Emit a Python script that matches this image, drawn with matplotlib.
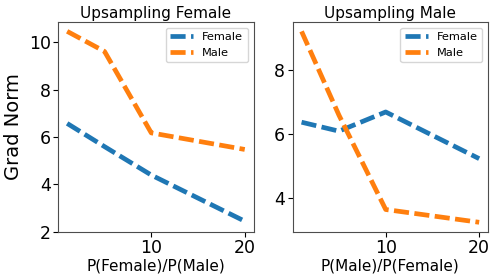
import matplotlib
matplotlib.use("Agg")
import matplotlib.pyplot as plt

ratios = [1, 5, 10, 20]
upF_female = [6.58, 5.6, 4.4, 2.45]
upF_male = [10.47, 9.62, 6.18, 5.48]
upM_female = [6.38, 6.1, 6.7, 5.24]
upM_male = [9.22, 6.6, 3.65, 3.25]
xticks = [10, 20]

fig, axes = plt.subplots(1, 2, figsize=(4.98, 2.8), dpi=100)
fig.subplots_adjust(left=0.117, right=0.98, bottom=0.172, top=0.922, wspace=0.2)

specs = [
    (axes[0], upF_female, upF_male, "Upsampling Female", "P(Female)/P(Male)", [2, 4, 6, 8, 10]),
    (axes[1], upM_female, upM_male, "Upsampling Male", "P(Male)/P(Female)", [4, 6, 8]),
]
for ax, fem, mal, title, xlabel, yt in specs:
    ax.plot(ratios, fem, linestyle=(0, (3.2, 1.15)), linewidth=3.4, color="#1f77b4", label="Female")
    ax.plot(ratios, mal, linestyle=(0, (3.2, 1.15)), linewidth=3.4, color="#ff7f0e", label="Male")
    ax.set_title(title, fontsize=11, pad=3)
    ax.set_xlabel(xlabel, fontsize=11, labelpad=1)
    ax.set_xticks(xticks)
    ax.set_yticks(yt)
    ax.tick_params(labelsize=12.5, pad=2)
    for s in ax.spines.values():
        s.set_color("0.3")
    ax.legend(fontsize=8.2, loc="upper right")

axes[0].set_ylabel("Grad Norm", fontsize=14)

fig.savefig("out.png", dpi=100)
